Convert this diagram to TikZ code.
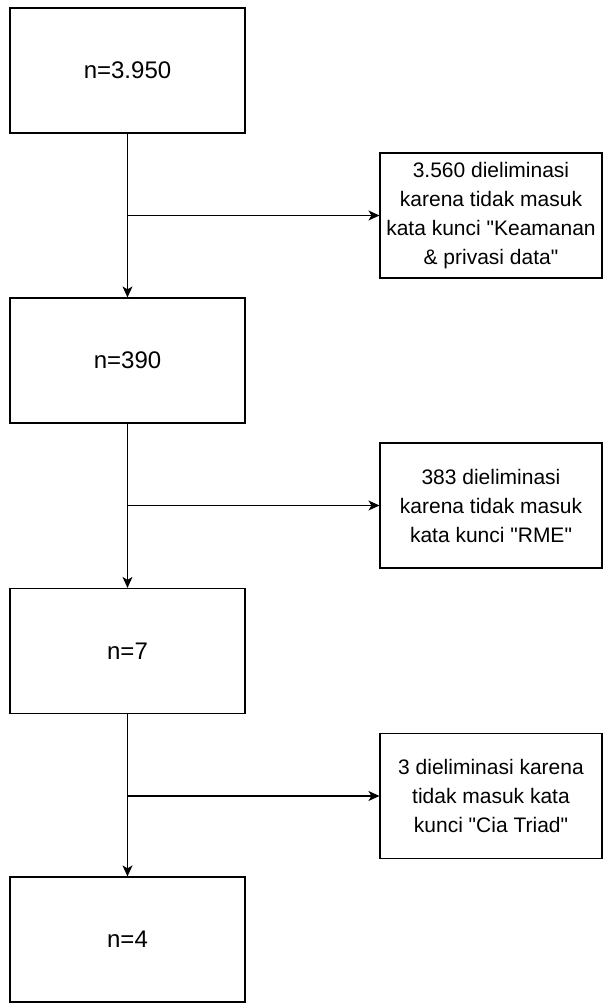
\documentclass[tikz,border=0pt]{standalone}
\usepackage{fontspec}
\newfontfamily\arialike{Liberation Sans}
\usepackage{tikz}
\usetikzlibrary{arrows.meta}
\tikzset{>={Stealth[length=11pt, width=10pt, inset=3pt]}}

\begin{document}
\begin{tikzpicture}[x=1pt, y=-1pt,
    mainbox/.style={draw, line width=1.2pt, fill=white, minimum width=235pt, minimum height=125pt, inner sep=0pt, font=\arialike\fontsize{24}{28}\selectfont},
    sidebox/.style={draw, line width=1.1pt, fill=white, minimum width=222pt, minimum height=125pt, inner sep=0pt, align=center, font=\arialike\fontsize{21}{29}\selectfont},
    link/.style={line width=1.3pt, ->}]

    \useasboundingbox (0,0) rectangle (604,1003);

    % Main boxes
    \node[mainbox] (n1) at (127.5, 70.5) {n=3.950};
    \node[mainbox] (n2) at (127.5, 360.5) {n=390};
    \node[mainbox] (n3) at (127.5, 651) {n=7};
    \node[mainbox] (n4) at (127.5, 939.5) {n=4};

    % Eliminated
    \node[sidebox] (e1) at (491, 215.5) {3.560 dieliminasi\\karena tidak masuk\\kata kunci "Keamanan\\\& privasi data"};
    \node[sidebox] (e2) at (491, 505.5) {383 dieliminasi\\karena tidak masuk\\kata kunci "RME"};
    \node[sidebox] (e3) at (491, 796) {3 dieliminasi karena\\tidak masuk kata\\kunci "Cia Triad"};

    % Flow
    \foreach \a/\b/\e in {n1/n2/e1, n2/n3/e2, n3/n4/e3}{
        \draw[link] (\a.south) -- (\b.north);
        \coordinate (b\e) at (\a.south |- \e.west);
        \draw[link] (b\e) -- (\e.west);
    }

\end{tikzpicture}
\end{document}
